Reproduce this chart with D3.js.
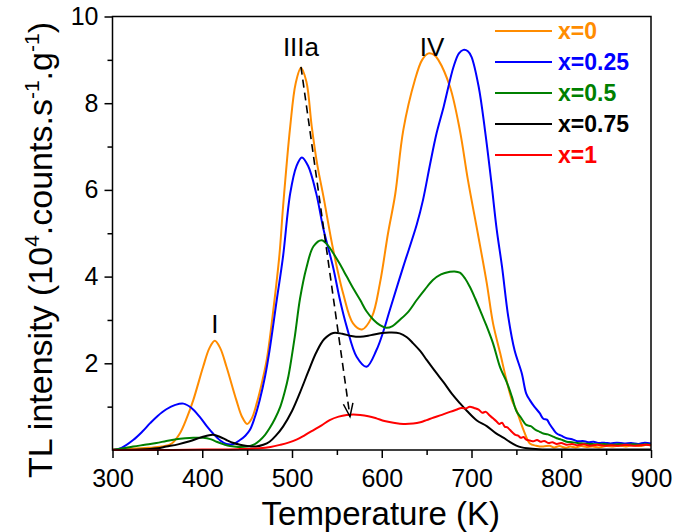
<!DOCTYPE html>
<html>
<head>
<meta charset="utf-8">
<script src="https://cdn.jsdelivr.net/npm/d3@7"></script>
<style>
  html, body { margin: 0; padding: 0; background: #fff; }
  svg { display: block; font-family: "Liberation Sans", Arial, sans-serif; }
</style>
</head>
<body>
<svg id="chart" width="674" height="532"></svg>
<script>
// ---------------- DATA ----------------
const seriesNames = ["x=0", "x=0.25", "x=0.5", "x=0.75", "x=1"];
const seriesColors = ["#FF8C00", "#0000FF", "#008000", "#000000", "#FF0000"];

const xTicks = [300, 400, 500, 600, 700, 800, 900];
const yTicks = [2, 4, 6, 8, 10];

const peakLabels = ["I", "IIIa", "IV"];
const peakLabelT = [414, 510, 656];
const peakLabelI = [2.7, 9.1, 9.1];

const arrowFrom = [510, 8.84];
const arrowTo = [564.6, 0.77];

const x0 = [[300,0.02],[320,0.03],[340,0.05],[355,0.08],[366,0.15],[375,0.38],[383,0.75],[390,1.15],[401,1.92],[408,2.35],[414,2.52],[420,2.35],[427,1.92],[438,1.15],[444,0.78],[450,0.6],[455,0.72],[461,1.1],[467,1.6],[472,2.1],[479,3.2],[486,4.5],[490,5.6],[498,7.46],[504,8.45],[510,8.82],[516,8.5],[522,7.46],[528,6.6],[535,5.85],[546,4.61],[557,3.61],[568,2.92],[578,2.78],[589,3.07],[598,3.85],[607,5.0],[615,5.9],[624,7.38],[637,8.54],[645,9.0],[652,9.15],[658,9.12],[663,9.0],[676,8.38],[687,7.38],[696,6.23],[707,5.0],[717,3.85],[724,2.92],[732,2.23],[739,1.61],[745,1.15],[750,0.92],[758,0.46],[765,0.15],[772,0.1],[780,0.08],[787,0.1],[792,0.06],[798,0.09],[805,0.05],[810,0.08],[816,0.06],[822,0.09],[828,0.07],[835,0.08],[842,0.06],[850,0.09],[858,0.08],[865,0.1],[872,0.08],[880,0.11],[888,0.09],[895,0.12],[900,0.1]];

const x025 = [[300,0.0],[310,0.05],[323,0.23],[333,0.42],[342,0.62],[350,0.78],[360,0.94],[370,1.04],[379,1.07],[388,0.97],[397,0.77],[405,0.55],[412,0.38],[420,0.22],[427,0.14],[435,0.14],[442,0.23],[448,0.33],[453,0.46],[458,0.72],[464,1.15],[470,1.7],[475,2.3],[483,3.46],[490,4.46],[498,5.92],[505,6.55],[511,6.75],[518,6.55],[527,5.92],[535,5.1],[546,4.2],[553,3.5],[561,2.84],[572,2.15],[583,1.92],[594,2.3],[602,2.75],[609,3.23],[624,4.23],[639,5.2],[646,5.77],[654,6.61],[661,7.3],[669,7.92],[680,8.84],[686,9.15],[691,9.23],[696,9.2],[700,9.07],[708,8.38],[715,7.38],[722,6.2],[728,5.1],[734,4.23],[741,3.07],[748,2.3],[756,1.77],[761,1.3],[765,1.15],[770,1.0],[776,0.85],[780,0.72],[784,0.7],[787,0.6],[791,0.48],[795,0.38],[800,0.33],[806,0.27],[812,0.25],[818,0.2],[824,0.21],[830,0.18],[836,0.19],[842,0.16],[848,0.17],[855,0.15],[862,0.17],[870,0.15],[878,0.16],[886,0.14],[893,0.17],[900,0.15]];

const x05 = [[300,0],[312,0.04],[323,0.08],[336,0.12],[349,0.16],[360,0.21],[371,0.25],[381,0.27],[390,0.28],[401,0.28],[409,0.25],[416,0.19],[424,0.13],[431,0.09],[440,0.07],[450,0.08],[458,0.13],[464,0.22],[470,0.35],[475,0.5],[481,0.72],[487,1.0],[492,1.35],[496,1.7],[503,2.6],[509,3.5],[516,4.2],[524,4.7],[533,4.84],[540,4.72],[546,4.54],[553,4.3],[561,4.0],[569,3.7],[576,3.46],[583,3.2],[591,3.0],[598,2.88],[605,2.82],[612,2.86],[620,3.0],[630,3.2],[639,3.46],[648,3.7],[657,3.92],[666,4.05],[676,4.11],[681,4.12],[687,4.09],[693,3.95],[698,3.77],[704,3.5],[711,3.15],[717,2.85],[724,2.46],[732,1.9],[739,1.58],[745,1.23],[750,0.9],[755,0.75],[761,0.58],[766,0.55],[771,0.47],[776,0.42],[780,0.38],[785,0.36],[791,0.31],[795,0.27],[800,0.24],[806,0.19],[812,0.18],[818,0.16],[825,0.15],[832,0.14],[840,0.13],[848,0.14],[856,0.12],[864,0.13],[872,0.12],[880,0.13],[888,0.12],[895,0.13],[900,0.12]];

const x075 = [[300,0],[330,0.01],[350,0.04],[360,0.08],[373,0.13],[386,0.2],[400,0.3],[412,0.35],[420,0.3],[427,0.23],[435,0.16],[442,0.12],[450,0.09],[460,0.08],[468,0.12],[475,0.19],[482,0.33],[490,0.54],[500,0.9],[509,1.33],[518,1.8],[527,2.25],[536,2.56],[546,2.7],[556,2.68],[566,2.63],[576,2.61],[588,2.65],[600,2.7],[610,2.71],[620,2.69],[628,2.6],[635,2.46],[643,2.28],[650,2.08],[660,1.8],[669,1.56],[678,1.3],[687,1.08],[695,0.9],[706,0.68],[717,0.55],[727,0.39],[736,0.28],[743,0.18],[750,0.1],[756,0.06],[762,0.04],[775,0.02],[800,0.01],[850,0.01],[900,0.01]];

const x1 = [[300,0],[350,0],[400,0.01],[440,0.02],[464,0.04],[476,0.07],[487,0.12],[496,0.17],[505,0.24],[514,0.34],[524,0.46],[533,0.57],[542,0.69],[552,0.77],[561,0.81],[568,0.82],[576,0.81],[585,0.78],[594,0.73],[603,0.67],[613,0.63],[624,0.6],[635,0.61],[643,0.64],[650,0.69],[658,0.75],[667,0.81],[676,0.88],[683,0.93],[689,0.97],[694,0.96],[698,1.0],[703,0.97],[708,0.93],[712,0.86],[716,0.88],[720,0.8],[724,0.73],[728,0.66],[731,0.6],[734,0.63],[737,0.54],[740,0.52],[743,0.46],[746,0.4],[749,0.35],[752,0.33],[755,0.28],[758,0.3],[761,0.24],[765,0.22],[769,0.2],[773,0.23],[777,0.19],[781,0.21],[786,0.16],[790,0.18],[795,0.14],[800,0.16],[806,0.12],[812,0.14],[818,0.11],[825,0.13],[832,0.1],[840,0.12],[848,0.1],[856,0.11],[864,0.1],[872,0.12],[880,0.1],[888,0.11],[895,0.12],[900,0.11]];

const seriesData = [x0, x025, x05, x075, x1];

// ---------------- DRAW ----------------
const svg = d3.select("#chart");
const L = 112.5, R = 651, T = 16.5, B = 450;

const x = d3.scaleLinear().domain([300, 900]).range([L, R]);
const y = d3.scaleLinear().domain([0, 10]).range([B, T]);

const line = d3.line()
  .x(d => x(d[0])).y(d => y(d[1]))
  .curve(d3.curveCatmullRom.alpha(0.5));

// series
seriesData.forEach((s, i) => {
  svg.append("path")
    .attr("d", line(s))
    .attr("fill", "none")
    .attr("stroke", seriesColors[i])
    .attr("stroke-width", 2)
    .attr("stroke-linejoin", "round");
});

// frame
svg.append("rect")
  .attr("x", L).attr("y", T).attr("width", R - L).attr("height", B - T)
  .attr("fill", "none").attr("stroke", "#000").attr("stroke-width", 1.5);

// x axis
const xAxis = d3.axisBottom(x).tickValues(xTicks).tickSize(8).tickPadding(11)
  .tickFormat(d3.format("d"));
const gx = svg.append("g").attr("transform", `translate(0,${B})`).call(xAxis);
gx.select(".domain").remove();
gx.selectAll("line").attr("stroke-width", 1.5);
gx.selectAll("text").attr("font-size", 25).attr("fill", "#000")
  .attr("font-family", "Liberation Sans, Arial, sans-serif");
const xMinor = d3.axisBottom(x).tickValues(d3.range(350, 900, 100)).tickSize(5).tickFormat("");
const gxm = svg.append("g").attr("transform", `translate(0,${B})`).call(xMinor);
gxm.select(".domain").remove();
gxm.selectAll("line").attr("stroke-width", 1.5);

// y axis
const yAxis = d3.axisLeft(y).tickValues(yTicks).tickSize(8).tickPadding(6)
  .tickFormat(d3.format("d"));
const gy = svg.append("g").attr("transform", `translate(${L},0)`).call(yAxis);
gy.select(".domain").remove();
gy.selectAll("line").attr("stroke-width", 1.5);
gy.selectAll("text").attr("font-size", 25).attr("fill", "#000")
  .attr("font-family", "Liberation Sans, Arial, sans-serif");
const yMinor = d3.axisLeft(y).tickValues([1, 3, 5, 7, 9]).tickSize(5).tickFormat("");
const gym = svg.append("g").attr("transform", `translate(${L},0)`).call(yMinor);
gym.select(".domain").remove();
gym.selectAll("line").attr("stroke-width", 1.5);

// axis titles
svg.append("text")
  .attr("x", (L + R) / 2 - 1).attr("y", 525)
  .attr("text-anchor", "middle").attr("font-size", 33).attr("fill", "#000")
  .text("Temperature (K)");

const yt = svg.append("text")
  .attr("transform", "translate(52,250) rotate(-90)")
  .attr("text-anchor", "middle").attr("font-size", 34).attr("fill", "#000");
yt.append("tspan").text("TL intensity (10");
yt.append("tspan").attr("dy", -13).attr("font-size", 21).text("4");
yt.append("tspan").attr("dy", 13).text(".counts.s");
yt.append("tspan").attr("dy", -13).attr("font-size", 21).text("-1");
yt.append("tspan").attr("dy", 13).text(".g");
yt.append("tspan").attr("dy", -13).attr("font-size", 21).text("-1");
yt.append("tspan").attr("dy", 13).text(")");

// peak labels
peakLabels.forEach((t, i) => {
  svg.append("text")
    .attr("x", x(peakLabelT[i])).attr("y", y(peakLabelI[i]))
    .attr("text-anchor", "middle").attr("font-size", 26).attr("fill", "#000")
    .text(t);
});

// dashed arrow
const ax1 = x(arrowFrom[0]), ay1 = y(arrowFrom[1]);
const ax2 = x(arrowTo[0]), ay2 = y(arrowTo[1]);
svg.append("line")
  .attr("x1", ax1).attr("y1", ay1).attr("x2", ax2).attr("y2", ay2)
  .attr("stroke", "#000").attr("stroke-width", 1.6).attr("stroke-dasharray", "8,5");
const ang = Math.atan2(ay2 - ay1, ax2 - ax1);
const hl = 14, ha = 0.35;
svg.append("path")
  .attr("d", `M${ax2 - hl * Math.cos(ang - ha)},${ay2 - hl * Math.sin(ang - ha)} L${ax2},${ay2} L${ax2 - hl * Math.cos(ang + ha)},${ay2 - hl * Math.sin(ang + ha)}`)
  .attr("fill", "none").attr("stroke", "#000").attr("stroke-width", 1.5);

// legend
const lg = svg.append("g");
seriesNames.forEach((n, i) => {
  const ly = 31 + i * 31;
  lg.append("line").attr("x1", 495).attr("x2", 552).attr("y1", ly).attr("y2", ly)
    .attr("stroke", seriesColors[i]).attr("stroke-width", 2);
  lg.append("text").attr("x", 558).attr("y", ly + 8)
    .attr("font-size", 23).attr("font-weight", "bold").attr("fill", seriesColors[i])
    .text(n);
});
</script>
</body>
</html>
